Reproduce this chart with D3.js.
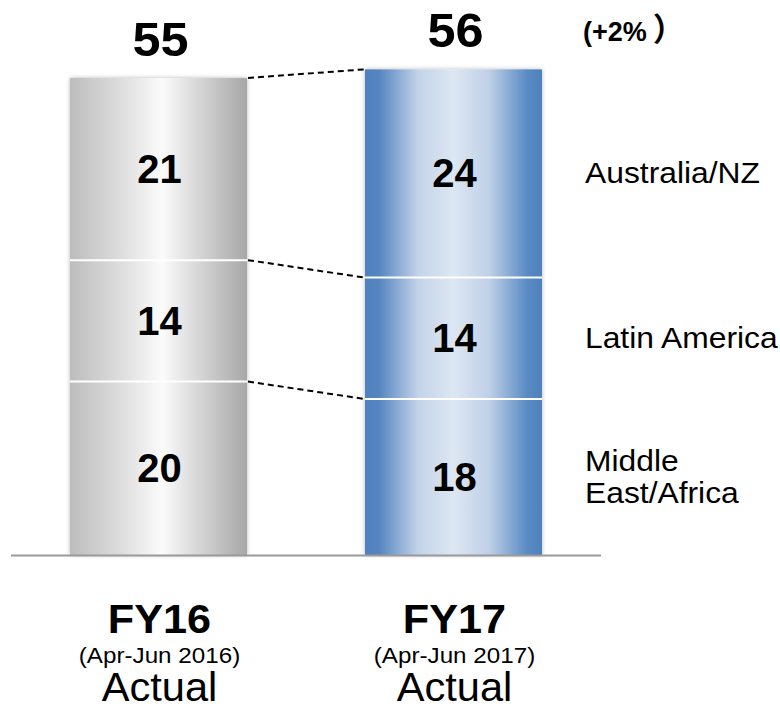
<!DOCTYPE html>
<html>
<head>
<meta charset="utf-8">
<script src="https://cdn.jsdelivr.net/npm/d3@7"></script>
<style>
  html, body { margin: 0; padding: 0; background: #fff; }
  svg { display: block; font-family: "Liberation Sans", Arial, Helvetica, sans-serif; }
</style>
</head>
<body>
<svg id="chart" width="780" height="710"></svg>
<script>
// Sales by region, Apr-Jun quarter
const periods = ["FY16", "FY17"];
const periodNotes = ["(Apr-Jun 2016)", "(Apr-Jun 2017)"];
const periodKind = ["Actual", "Actual"];
const regions = ["Middle East/Africa", "Latin America", "Australia/NZ"];
const regionLabels = [["Middle", "East/Africa"], ["Latin America"], ["Australia/NZ"]];
const fy16 = [20, 14, 21];
const fy17 = [18, 14, 24];
const totals = [55, 56];
const growthParts = ["(+2%", "）"];

const svg = d3.select("#chart");
const defs = svg.append("defs");

// Widen a text run horizontally while keeping its glyph shapes
function stretch(sel, f) {
  sel.each(function () {
    const L = this.getComputedTextLength();
    d3.select(this).attr("textLength", L * f).attr("lengthAdjust", "spacingAndGlyphs");
  });
  return sel;
}

// Cylinder-like horizontal shading for each bar
const grads = [
  { id: "gGray", stops: [[0, "#bdbdbd"], [0.28, "#dcdcdc"], [0.52, "#fbfbfb"], [0.78, "#cdcdcd"], [1, "#a7a7a7"]] },
  { id: "gBlue", stops: [[0, "#4f81bd"], [0.08, "#5686c1"], [0.3, "#c3d3e9"], [0.5, "#dde7f3"], [0.7, "#c0d0e7"], [0.92, "#5889c3"], [1, "#4f81bd"]] }
];
grads.forEach(g => {
  const lg = defs.append("linearGradient").attr("id", g.id)
    .attr("x1", "0%").attr("x2", "100%").attr("y1", "0%").attr("y2", "0%");
  g.stops.forEach(s => lg.append("stop").attr("offset", s[0]).attr("stop-color", s[1]));
});
const shadow = defs.append("filter").attr("id", "soft")
  .attr("x", "-10%").attr("y", "-10%").attr("width", "120%").attr("height", "120%");
shadow.append("feDropShadow").attr("dx", 0).attr("dy", 0).attr("stdDeviation", 2.2)
  .attr("flood-color", "#000").attr("flood-opacity", 0.28);

const x = d3.scaleBand().domain(periods).range([11, 601]).paddingInner(0.4).paddingOuter(0.2);
const y = d3.scaleLinear().domain([0, 64]).range([555, 0]);

const series = [fy16, fy17];
const stacked = series.map((vals, i) => {
  let acc = 0;
  return vals.map((v, j) => {
    const s = { period: periods[i], region: regions[j], value: v, y0: acc, y1: acc + v };
    acc += v;
    return s;
  });
});

// Bars
stacked.forEach((segs, i) => {
  const g = svg.append("g").attr("filter", "url(#soft)");
  g.selectAll("rect").data(segs).join("rect")
    .attr("x", d => x(d.period))
    .attr("width", x.bandwidth())
    .attr("y", d => y(d.y1))
    .attr("height", d => y(d.y0) - y(d.y1))
    .attr("fill", `url(#${grads[i].id})`);
  // white separators between segments
  svg.append("g").selectAll("line").data(segs.slice(1)).join("line")
    .attr("x1", d => x(d.period)).attr("x2", d => x(d.period) + x.bandwidth())
    .attr("y1", d => y(d.y0)).attr("y2", d => y(d.y0))
    .attr("stroke", "#fff").attr("stroke-width", 2);
  // segment values
  svg.append("g").selectAll("text").data(segs).join("text")
    .attr("x", d => x(d.period) + x.bandwidth() / 2 + 1)
    .attr("y", d => (y(d.y0) + y(d.y1)) / 2 + 14)
    .attr("text-anchor", "middle")
    .attr("font-weight", "bold").attr("font-size", 40).attr("fill", "#000")
    .text(d => d.value);
});

// Dashed connectors between matching segment boundaries
const bounds = [0, 1, 2].map(k => ({ a: stacked[0][k].y1, b: stacked[1][k].y1 }));
svg.append("g").selectAll("line").data(bounds).join("line")
  .attr("x1", x("FY16") + x.bandwidth() + 1)
  .attr("x2", x("FY17") - 1)
  .attr("y1", d => y(d.a)).attr("y2", d => y(d.b))
  .attr("stroke", "#000").attr("stroke-width", 2).attr("stroke-dasharray", "6,4");

// Baseline
svg.append("line")
  .attr("x1", x.range()[0]).attr("x2", x.range()[1])
  .attr("y1", y(0) + 0.5).attr("y2", y(0) + 0.5)
  .attr("stroke", "#9a9a9a").attr("stroke-width", 2);

// Totals
stretch(svg.append("g").selectAll("text").data(totals).join("text")
  .attr("x", (d, i) => x(periods[i]) + x.bandwidth() / 2 + 2)
  .attr("y", (d, i) => y(d) - 22)
  .attr("text-anchor", "middle")
  .attr("font-weight", "bold").attr("font-size", 48)
  .text(d => d), 1.05);

const growth = svg.append("text")
  .attr("x", 583).attr("y", 41)
  .attr("font-weight", "bold").attr("font-size", 27);
growth.append("tspan").text(growthParts[0]);
growth.append("tspan").attr("dx", 6).attr("font-size", 32)
  .attr("font-family", "'Noto Sans CJK JP', sans-serif").text(growthParts[1]);

// Region labels, aligned with FY17 segments
const last = stacked[1];
regionLabels.forEach((lines, j) => {
  const mid = (y(last[j].y0) + y(last[j].y1)) / 2;
  const startY = mid + 10 - (lines.length - 1) * 16;
  lines.forEach((ln, k) => {
    stretch(svg.append("text").attr("x", 585).attr("y", startY + k * 32)
      .attr("font-size", 30).attr("fill", "#000").text(ln), 1.06);
  });
});

// Period labels
const lab = svg.append("g");
periods.forEach((p, i) => {
  const cx = x(p) + x.bandwidth() / 2 + 1;
  stretch(lab.append("text").attr("x", cx).attr("y", 633).attr("text-anchor", "middle")
    .attr("font-weight", "bold").attr("font-size", 40).text(p), 1.08);
  stretch(lab.append("text").attr("x", cx).attr("y", 663).attr("text-anchor", "middle")
    .attr("font-size", 22).text(periodNotes[i]), 1.1);
  stretch(lab.append("text").attr("x", cx).attr("y", 701).attr("text-anchor", "middle")
    .attr("font-size", 40).text(periodKind[i]), 1.04);
});
</script>
</body>
</html>
